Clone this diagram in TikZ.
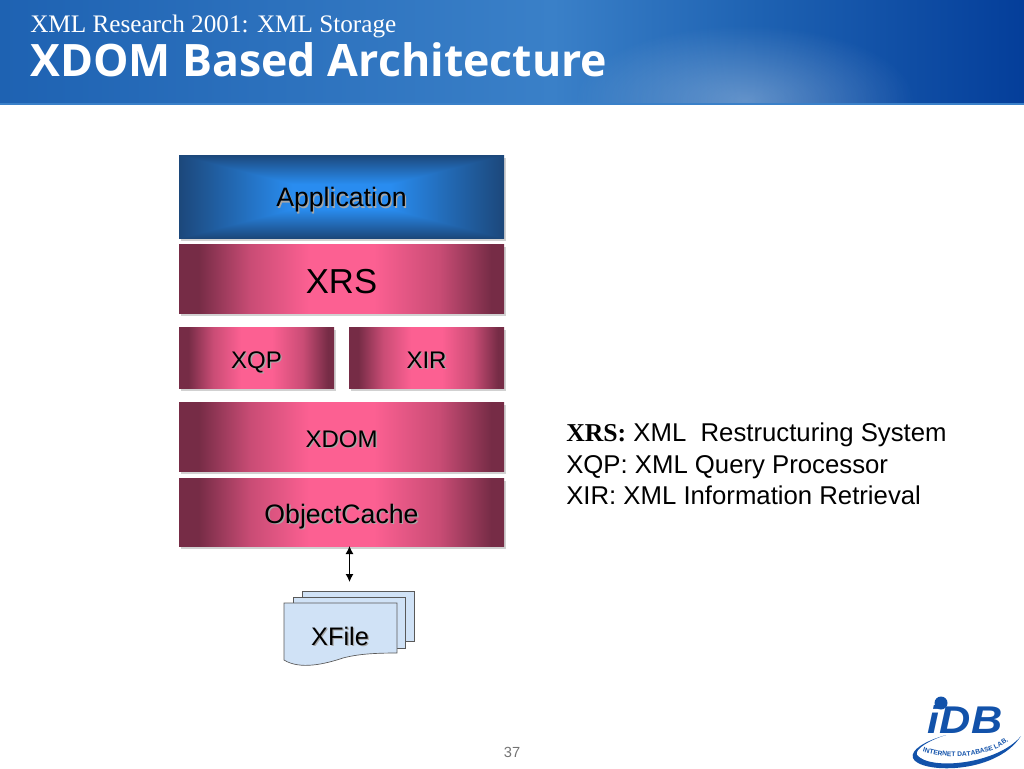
\documentclass[tikz,border=0pt]{standalone}
\usepackage{fontspec}
\setmainfont{Liberation Sans}
\newfontfamily\serifface{Liberation Serif}
\newfontfamily\titleface{Open Sans}
\usepackage{xcolor}
\usepackage{tikz}
\usetikzlibrary{arrows.meta,positioning,calc,shadows,fadings,decorations.text}
\definecolor{bandedge}{RGB}{118,44,70}
\definecolor{bandmid}{RGB}{252,96,146}
\definecolor{bannerleft}{RGB}{30,98,178}
\definecolor{bannermid}{RGB}{58,128,200}
\definecolor{bannerright}{RGB}{4,62,154}
\definecolor{sheetblue}{RGB}{208,226,246}
\definecolor{logoblue}{RGB}{18,82,170}
\pgfdeclarehorizontalshading{pinkband}{100bp}{color(0bp)=(bandedge); color(28bp)=(bandedge); color(36bp)=(bandmid!62!bandedge); color(45bp)=(bandmid); color(55bp)=(bandmid); color(65bp)=(bandmid!62!bandedge); color(73bp)=(bandedge); color(100bp)=(bandedge)}
\pgfdeclarehorizontalshading{bannerband}{100bp}{color(0bp)=(bannerleft); color(25bp)=(bannerleft); color(52bp)=(bannermid); color(62bp)=(bannerleft); color(75bp)=(bannerright); color(100bp)=(bannerright)}
\pgfdeclarefunctionalshading{appglow}{\pgfpointorigin}{\pgfpoint{100bp}{100bp}}{}{
  50 sub abs exch 50 sub abs 2 copy lt {exch} if pop 25 div
  0.3 sub dup 0 lt {pop 0} if 0.7 div
  dup dup -0.46 mul 0.94 add 3 1 roll -0.27 mul 0.55 add exch -0.05 mul 0.16 add 3 1 roll exch
}
\tikzfading[name=softspot, inner color=transparent!70, outer color=transparent!100]
\newcommand{\softshadow}[1]{\rlap{\kern1pt\raisebox{-1pt}{\textcolor{black!35}{#1}}}#1}
\tikzset{
  layerbox/.style={shading=pinkband, minimum width=243.75pt, minimum height=51.75pt, inner sep=0pt, outer sep=0pt, text=black, text height=16.5pt, text depth=0pt, font=\fontsize{18}{22}\selectfont, drop shadow={shadow xshift=1.5pt, shadow yshift=-2pt, fill=black!18, opacity=1}},
  halfbox/.style={layerbox, minimum width=116.25pt, minimum height=45.75pt},
  appbox/.style={layerbox, shading=appglow, minimum height=62.25pt, text height=15.5pt, font=\fontsize{20}{24}\selectfont},
  sheet/.style={draw=black!65, line width=0.5pt, fill=sheetblue},
  arrow/.style={{Latex[length=6pt,width=6pt]}-{Latex[length=6pt,width=6pt]}, line width=0.9pt},
  legend/.style={align=left, anchor=north west, inner sep=0pt, font=\fontsize{19.3}{23.4}\selectfont}
}
\begin{document}
\begin{tikzpicture}[x=0.75pt,y=-0.75pt]
  \useasboundingbox (0,0) rectangle (1024,768);
  % banner
  \path[shading=bannerband] (0,0) rectangle (1024,103);
  \begin{scope}
    \clip (0,0) rectangle (1024,103);
    \fill[white, path fading=softspot] (745,100) ellipse (170 and 75);
  \end{scope}
  \fill[bannermid] (0,103) rectangle (1024,105);
  \node[anchor=base west, inner sep=0pt, text=white, font=\serifface\fontsize{18.9}{22}\selectfont] (subtitle) at (30,32) {XML Research 2001: XML Storage};
  \node[anchor=base west, inner sep=0pt, text=white, font=\titleface\bfseries\fontsize{33.5}{40}\selectfont] (title) at (30,76) {XDOM Based Architecture};

  % layers
  \node[appbox] (app) at (341.5,196.5) {\softshadow{Application}};
  \node[layerbox, below=4.5pt of app, text height=21.75pt, font=\fontsize{26}{30}\selectfont] (xrs) {XRS};
  \node[halfbox, anchor=north west] (xqp) at ($(xrs.south west)+(0,14)$) {\softshadow{XQP}};
  \node[halfbox, anchor=north east] (xir) at ($(xrs.south east)+(0,14)$) {\softshadow{XIR}};
  \node[layerbox, anchor=north west] (xdom) at ($(xqp.south west)+(0,14)$) {\softshadow{XDOM}};
  \node[layerbox, below=5.25pt of xdom, minimum height=51pt, font=\fontsize{20}{24}\selectfont] (cache) {\softshadow{ObjectCache}};

  % file stack
  \draw[sheet] (302,591) -- (414,591) -- (414,641) -- (302,641) -- cycle;
  \draw[sheet] (293,597) -- (405,597) -- (405,648) -- (293,648) -- cycle;
  \draw[sheet] (284,603) -- (397,603) -- (397,653) .. controls (375,653) and (358,654) .. (343,658) .. controls (325,664) and (300,670) .. (284,660) -- cycle;
  \node[anchor=base, inner sep=0pt, font=\fontsize{19}{22}\selectfont] (xfile) at (340,645) {\softshadow{XFile}};
  \coordinate (filetop) at (349.5,582);
  \draw[arrow] (cache.south -| filetop) -- (filetop);

  % legend
  \node[legend] (legendtext) at (566,423) {{\serifface\bfseries XRS:} XML\ \ Restructuring System\\XQP: XML Query Processor\\XIR: XML Information Retrieval};

  % page number
  \node[text=black!55, font=\fontsize{11}{13}\selectfont] (pagenum) at (512,752) {37};

  % logo
  \fill[logoblue] (941,703) circle (6.5);
  \node[anchor=base, inner sep=0pt, text=logoblue, font=\bfseries\itshape\fontsize{29}{32}\selectfont] (logoname) at (965,733) {\scalebox{1.12}[1]{iDB}};
  \fill[logoblue] (946,735) .. controls (925,741) and (910,750) .. (913,758) .. controls (918,773) and (995,776) .. (1021,736) .. controls (998,764) and (930,771) .. (917,755) .. controls (914,749) and (930,740) .. (946,735) -- cycle;
  \path[postaction={decorate, decoration={text along path, text align=center, text={|\bfseries\fontsize{5}{6}\selectfont\color{logoblue}|INTERNET DATABASE LAB.}}}] (921,751) .. controls (950,761) and (988,758) .. (1010,740);
\end{tikzpicture}
\end{document}
